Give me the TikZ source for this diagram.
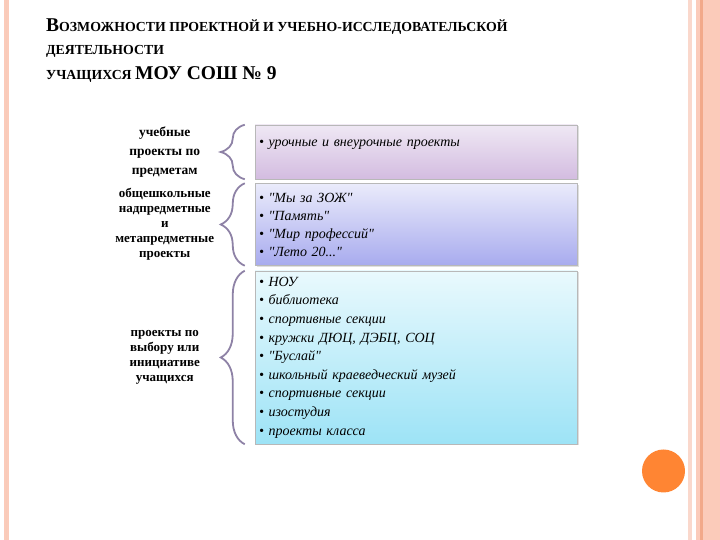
\documentclass[tikz,border=0pt]{standalone}
\usepackage{fontspec}
\setmainfont{Liberation Serif}
\usetikzlibrary{positioning,decorations.pathreplacing,shadows}

\definecolor{stripe}{HTML}{FBCBBA}
\definecolor{stripedk}{HTML}{F2A98A}
\definecolor{stripelt}{HTML}{FAD8CC}
\definecolor{dotcol}{HTML}{FF8533}
\definecolor{boxline}{HTML}{B8B8B8}
\definecolor{bracecol}{HTML}{8E82A6}
\definecolor{topA}{HTML}{EFE8F4}
\definecolor{botA}{HTML}{D3BCE0}
\definecolor{topB}{HTML}{EAEBFB}
\definecolor{botB}{HTML}{A8ABEE}
\definecolor{topC}{HTML}{E9F9FD}
\definecolor{botC}{HTML}{9DE3F6}

\newcommand{\qq}[1]{\textquotedbl #1\textquotedbl}

\begin{document}
\begin{tikzpicture}[x=1pt, y=1pt,
	ttl/.style  = {anchor=base west, inner sep=0pt, font=\fontsize{13.8}{16}\selectfont\bfseries},
	box/.style  = {draw=boxline, line width=0.5pt, minimum width=322pt, text width=314pt, inner xsep=4pt, inner ysep=2pt,
		align=left, font=\fontsize{14}{18}\selectfont\itshape,
		drop shadow={shadow xshift=1.5pt, shadow yshift=-1.5pt, opacity=0.25}},
	lab/.style  = {align=center, inner sep=0pt, font=\fontsize{13}{15}\selectfont\bfseries},
	brc/.style  = {draw=bracecol, line width=1.8pt, decorate, decoration={brace, amplitude=24pt}},
	]
	\useasboundingbox (0,0) rectangle (720,540);
	
	% side stripes
	\fill[stripe] (3.5,0) rectangle (8.5,540);
	\fill[stripedk!60] (5.5,0) rectangle (6.5,540);
	\fill[stripelt] (688,0) rectangle (691.5,540);
	\fill[stripe] (696,0) rectangle (720,540);
	\fill[stripedk] (700,0) rectangle (703,540);
	\fill[dotcol] (663.5,69) circle (21.5);
	
	% title
	\node[ttl] (t1) at (46,508) {{\fontsize{19.5}{20}\selectfont В}ОЗМОЖНОСТИ ПРОЕКТНОЙ И УЧЕБНО-ИССЛЕДОВАТЕЛЬСКОЙ};
	\node[ttl] (t2) at (46,485) {ДЕЯТЕЛЬНОСТИ};
	\node[ttl] (t3) at (46,460) {УЧАЩИХСЯ {\fontsize{19.5}{20}\selectfont МОУ СОШ № 9}};
	
	% boxes
	\node[box, minimum height=54pt, top color=topA, bottom color=botA] (box1) at (416,388)
		{• урочные и внеурочные проекты\\ ~};
	\node[box, minimum height=82pt, top color=topB, bottom color=botB, below=4pt of box1] (box2)
		{• \qq{Мы за ЗОЖ}\\ • \qq{Память}\\ • \qq{Мир профессий}\\ • \qq{Лето 20...}};
	\node[box, minimum height=173pt, top color=topC, bottom color=botC, below=5pt of box2,
		font=\fontsize{14}{18.6}\selectfont\itshape] (box3)
		{• НОУ\\ • библиотека\\ • спортивные секции\\ • кружки ДЮЦ, ДЭБЦ, СОЦ\\ • \qq{Буслай}\\
		 • школьный краеведческий музей\\ • спортивные секции\\ • изостудия\\ • проекты класса};
	
	% labels
	\node[lab, font=\fontsize{13.5}{19}\selectfont\bfseries] (lab1) at ([xshift=-90pt]box1.west)
		{учебные\\ проекты по\\ предметам};
	\node[lab] (lab2) at ([xshift=-90pt]box2.west)
		{общешкольные\\ надпредметные\\ и\\ метапредметные\\ проекты};
	\node[lab] (lab3) at ([xshift=-90pt]box3.west)
		{проекты по\\ выбору или\\ инициативе\\ учащихся};
	
	% braces
	\foreach \b in {1,2,3}
	\draw[brc] ([xshift=-10pt]box\b.south west) -- ([xshift=-10pt]box\b.north west);
\end{tikzpicture}
\end{document}
